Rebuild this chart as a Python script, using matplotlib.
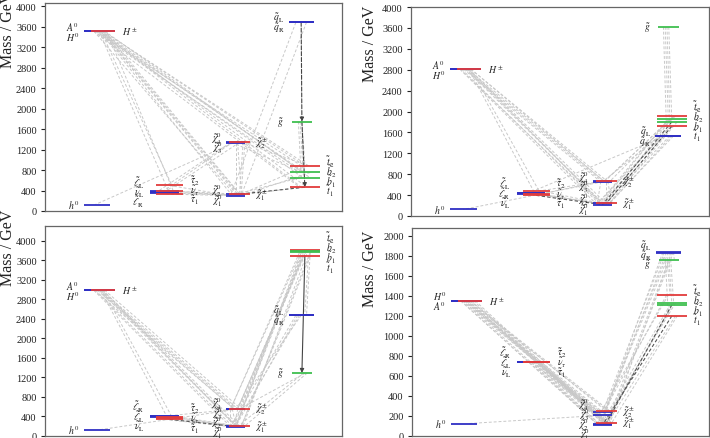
import matplotlib.pyplot as plt

plt.rcParams['font.family'] = ['Liberation Serif', 'DejaVu Serif']
plt.rcParams['mathtext.fontset'] = 'stix'

# particles shown in every panel
names = ['h0', 'H0', 'A0', 'Hpm',
         'lL', 'lR', 'nuL', 'tau1', 'tau2', 'nutau',
         'N1', 'N2', 'N3', 'N4', 'C1', 'C2',
         'qL', 'qR', 'gl', 't1', 't2', 'b1', 'b2']
labels = [r'$h^0$', r'$H^0$', r'$A^0$', r'$H^\pm$',
          r'$\tilde{\ell}_\mathrm{L}$', r'$\tilde{\ell}_\mathrm{R}$', r'$\tilde{\nu}_\mathrm{L}$',
          r'$\tilde{\tau}_1$', r'$\tilde{\tau}_2$', r'$\tilde{\nu}_\tau$',
          r'$\tilde{\chi}^0_1$', r'$\tilde{\chi}^0_2$', r'$\tilde{\chi}^0_3$', r'$\tilde{\chi}^0_4$',
          r'$\tilde{\chi}^\pm_1$', r'$\tilde{\chi}^\pm_2$',
          r'$\tilde{q}_\mathrm{L}$', r'$\tilde{q}_\mathrm{R}$', r'$\tilde{g}$',
          r'$\tilde{t}_1$', r'$\tilde{t}_2$', r'$\tilde{b}_1$', r'$\tilde{b}_2$']

# masses in GeV (same order as names)
mass_1 = [125, 3505, 3512, 3515, 400, 355, 370, 330, 515, 390,
          300, 330, 1335, 1340, 330, 1340, 3685, 3680, 1745, 464, 882, 647, 752]
mass_2 = [125, 2808, 2812, 2812, 445, 440, 430, 395, 478, 425,
          217, 240, 655, 662, 240, 662, 1535, 1530, 3620, 1716, 1913, 1800, 1850]
mass_3 = [125, 2983, 2987, 2987, 405, 418, 395, 340, 390, 365,
          192, 206, 552, 556, 206, 556, 2470, 2468, 1290, 3690, 3815, 3760, 3787]
mass_4 = [125, 1352, 1350, 1352, 740, 742, 738, 736, 740, 738,
          114, 121, 211, 238, 134, 248, 1838, 1835, 1765, 1201, 1409, 1312, 1329]

# decays (parent, daughter)
decays_1 = [('H0', 't1'), ('H0', 't2'), ('H0', 'b1'), ('H0', 'b2'),
            ('A0', 't1'), ('A0', 't2'), ('A0', 'b1'), ('A0', 'b2'),
            ('Hpm', 't1'), ('Hpm', 'b2'), ('Hpm', 't2'),
            ('H0', 'N1'), ('H0', 'N2'), ('A0', 'N1'), ('A0', 'C1'),
            ('Hpm', 'N1'), ('Hpm', 'C1'), ('H0', 'tau1'), ('A0', 'tau2'), ('Hpm', 'nutau'),
            ('qL', 'N1'), ('qR', 'N1'), ('gl', 'b1'), ('gl', 'b2'), ('gl', 't2'),
            ('t2', 'N1'), ('t2', 'C2'), ('b2', 'N1'), ('b1', 'N1'), ('b2', 'N3'), ('t1', 'N1'),
            ('N3', 'N1'), ('N4', 'C1'), ('C2', 'N1'), ('C2', 'N2'),
            ('N3', 'lL'), ('N4', 'lR'), ('N3', 'h0'), ('C2', 'nuL'),
            ('lL', 'N1'), ('lR', 'N1'), ('nuL', 'N1'), ('tau2', 'N1'), ('tau1', 'N1'), ('nutau', 'C1')]
dark_1 = [('t1', 'C1')]
arrows_1 = [('qL', 'gl'), ('gl', 't1')]

decays_2 = [('H0', 'N1'), ('H0', 'N2'), ('H0', 'N3'), ('H0', 'N4'),
            ('A0', 'N1'), ('A0', 'N2'), ('A0', 'N3'), ('A0', 'C1'),
            ('Hpm', 'C1'), ('Hpm', 'C2'), ('Hpm', 'N1'), ('Hpm', 'N4'),
            ('H0', 'lL'), ('A0', 'tau1'),
            ('gl', 't1'), ('gl', 't2'), ('gl', 'b1'), ('gl', 'b2'),
            ('qL', 'N1'), ('qL', 'C1'), ('qR', 'N1'), ('qL', 'N2'), ('qR', 'nuL'),
            ('t1', 'N1'), ('t1', 'C1'), ('t2', 'N3'), ('t2', 'C2'), ('b1', 'N1'),
            ('b1', 'C1'), ('b2', 'N2'), ('b2', 'C2'), ('t1', 'N3'), ('t2', 'N1'),
            ('N3', 'N1'), ('N4', 'C1'), ('C2', 'N1'), ('N3', 'lL'), ('N4', 'tau1'), ('N3', 'h0'),
            ('lL', 'N1'), ('lR', 'N1'), ('tau2', 'N1'), ('nutau', 'C1')]
dark_2 = [('tau1', 'N1'), ('b1', 'N1'), ('t1', 'C1')]
arrows_2 = []

decays_3 = [('H0', 'N1'), ('H0', 'N2'), ('H0', 'N3'), ('H0', 'N4'),
            ('A0', 'N1'), ('A0', 'N2'), ('A0', 'N3'), ('A0', 'C2'),
            ('Hpm', 'C1'), ('Hpm', 'C2'), ('Hpm', 'N1'), ('H0', 'lR'), ('A0', 'tau1'),
            ('t1', 'N1'), ('t1', 'N3'), ('t1', 'C1'), ('t1', 'C2'), ('t2', 'N1'), ('t2', 'N4'),
            ('t2', 'C1'), ('b1', 'N1'), ('b1', 'N3'), ('b1', 'C1'), ('b2', 'N2'), ('b2', 'C2'),
            ('b2', 'N4'), ('t1', 'qL'), ('b1', 'qR'),
            ('qL', 'N1'), ('qL', 'C1'), ('qR', 'N1'), ('qL', 'N3'),
            ('gl', 'N1'), ('gl', 'N3'), ('gl', 'C1'),
            ('N3', 'N1'), ('N4', 'C1'), ('C2', 'N1'), ('N3', 'lL'), ('N3', 'h0'),
            ('lL', 'N1'), ('lR', 'N1'), ('tau1', 'N1'), ('tau2', 'N1'), ('nutau', 'C1')]
dark_3 = [('tau1', 'N1')]
arrows_3 = [('t1', 'gl')]

decays_4 = [('H0', 'N1'), ('H0', 'N2'), ('H0', 'N3'), ('H0', 'N4'), ('H0', 'C1'), ('H0', 'C2'),
            ('A0', 'N1'), ('A0', 'N2'), ('A0', 'N3'), ('A0', 'N4'), ('A0', 'C1'), ('A0', 'C2'),
            ('Hpm', 'N1'), ('Hpm', 'N2'), ('Hpm', 'N3'), ('Hpm', 'N4'), ('Hpm', 'C1'), ('Hpm', 'C2'),
            ('lL', 'N1'), ('lR', 'N1'), ('nuL', 'C1'), ('tau1', 'N1'), ('tau2', 'N2'),
            ('nutau', 'C1'), ('lL', 'C1'), ('tau2', 'N1'),
            ('qL', 'N1'), ('qL', 'N2'), ('qL', 'C1'), ('qL', 'C2'), ('qR', 'N1'), ('qR', 'N3'),
            ('qR', 'N4'), ('qR', 'C1'), ('qL', 'gl'), ('qR', 'gl'),
            ('gl', 't1'), ('gl', 't2'), ('gl', 'b1'), ('gl', 'b2'),
            ('t1', 'N1'), ('t1', 'C1'), ('t2', 'N2'), ('t2', 'N3'), ('b1', 'N1'), ('b1', 'C1'),
            ('b2', 'N2'), ('b2', 'C2'), ('N3', 'h0')]
dark_4 = [('t1', 'N1'), ('b1', 'C1')]
arrows_4 = []

BLUE, RED, GREEN = '#2f2fc4', '#e23c3c', '#3fbf4f'
# x-extent of each level (axes fraction), colour and label group
layout = {
    'h0': (0.13, 0.22, BLUE, 'hL'), 'H0': (0.13, 0.235, BLUE, 'hL'),
    'A0': (0.13, 0.235, BLUE, 'hL'), 'Hpm': (0.155, 0.235, RED, 'hR'),
    'lL': (0.355, 0.45, BLUE, 'sL'), 'lR': (0.355, 0.45, BLUE, 'sL'),
    'nuL': (0.355, 0.45, BLUE, 'sL'), 'tau1': (0.375, 0.465, RED, 'sR'),
    'tau2': (0.375, 0.465, RED, 'sR'), 'nutau': (0.375, 0.465, RED, 'sR'),
    'N1': (0.61, 0.675, BLUE, 'nL'), 'N2': (0.61, 0.675, BLUE, 'nL'),
    'N3': (0.61, 0.675, BLUE, 'nL'), 'N4': (0.61, 0.675, BLUE, 'nL'),
    'C1': (0.62, 0.69, RED, 'cR'), 'C2': (0.62, 0.69, RED, 'cR'),
    'qL': (0.82, 0.905, BLUE, 'qL'), 'qR': (0.82, 0.905, BLUE, 'qL'),
    'gl': (0.83, 0.9, GREEN, 'qL'),
    't1': (0.825, 0.925, RED, 'tR'), 't2': (0.825, 0.925, RED, 'tR'),
    'b1': (0.825, 0.925, GREEN, 'tR'), 'b2': (0.825, 0.925, GREEN, 'tR'),
}
label_x = {'hL': (0.115, 'right'), 'hR': (0.26, 'left'), 'sL': (0.335, 'right'),
           'sR': (0.487, 'left'), 'nL': (0.597, 'right'), 'cR': (0.707, 'left'),
           'qL': (0.805, 'right'), 'tR': (0.945, 'left')}


def stack(ys, gap):
    # push labels apart so that they are at least gap apart
    clusters = [[y] for y in ys]
    while True:
        merged = False
        new = [clusters[0]]
        for c in clusters[1:]:
            prev = new[-1]
            cp = sum(prev) / len(prev)
            cc = sum(c) / len(c)
            if (cp - (len(prev) - 1) / 2 * gap) - (cc + (len(c) - 1) / 2 * gap) < gap:
                new[-1] = prev + c
                merged = True
            else:
                new.append(c)
        clusters = new
        if not merged:
            break
    out = []
    for c in clusters:
        cc = sum(c) / len(c)
        for i in range(len(c)):
            out.append(cc + ((len(c) - 1) / 2 - i) * gap)
    return out


def mid(n):
    return 0.5 * (layout[n][0] + layout[n][1])


def panel(ax, mass, decays, dark, arrows, arrow_ls, ymax, step, height_px):
    m = dict(zip(names, mass))
    for k, (a, b) in enumerate(decays):
        off = ((k % 7) - 3) * 0.006
        ax.plot([mid(a) + off, mid(b) + off], [m[a], m[b]], color='#c8c8c8',
                ls=(0, (3, 2)), lw=0.7, zorder=1)
    for a, b in dark:
        ax.plot([mid(a), mid(b)], [m[a], m[b]], color='#555555',
                ls=(0, (3, 2)), lw=0.8, zorder=2)
    for a, b in arrows:
        ax.annotate('', xy=(mid(b), m[b]), xytext=(mid(a), m[a]),
                    arrowprops=dict(arrowstyle='-|>', color='#444444', lw=0.8, ls=arrow_ls,
                                    mutation_scale=6, shrinkA=0, shrinkB=0), zorder=2)
    for n in names:
        x0, x1, c = layout[n][:3]
        ax.hlines(m[n], x0, x1, color=c, lw=1.3, zorder=3)

    gap = 9.8 * ymax / height_px
    groups = {}
    for n, lab in zip(names, labels):
        groups.setdefault(layout[n][3], []).append((n, lab))
    for g, members in groups.items():
        members.sort(key=lambda t: -m[t[0]])
        ys = stack([m[n] for n, _ in members], gap)
        lx, ha = label_x[g]
        for (n, lab), y in zip(members, ys):
            ax.text(lx, y, lab, ha=ha, va='center', fontsize=7, color='#222222')

    ax.set_xlim(0, 1)
    ax.set_ylim(0, ymax)
    ax.set_xticks([])
    ax.set_yticks(range(0, int(ymax) + 1, step))
    ax.tick_params(axis='y', direction='out', length=3, width=0.8, pad=3,
                   labelsize=7.5, colors='#222222')
    for s in ax.spines.values():
        s.set_color('#666666')
        s.set_linewidth(0.9)


W, H = 710, 439
fig = plt.figure(figsize=(W / 100, H / 100), dpi=100)

ax1 = fig.add_axes([45 / W, 1 - 212 / H, 297 / W, 208 / H])
ax2 = fig.add_axes([411 / W, 1 - 217 / H, 298 / W, 209 / H])
ax3 = fig.add_axes([45 / W, 1 - 437 / H, 297 / W, 210 / H])
ax4 = fig.add_axes([412 / W, 1 - 437 / H, 297 / W, 208 / H])

panel(ax1, mass_1, decays_1, dark_1, arrows_1, '--', 4060, 400, 208)
panel(ax2, mass_2, decays_2, dark_2, arrows_2, '--', 4000, 400, 209)
panel(ax3, mass_3, decays_3, dark_3, arrows_3, '-', 4300, 400, 210)
panel(ax4, mass_4, decays_4, dark_4, arrows_4, '--', 2080, 200, 208)

for x, y in [(8, 30), (370, 44), (8, 248), (370, 269)]:
    fig.text(x / W, 1 - y / H, 'Mass / GeV', rotation=90, ha='center', va='center',
             fontsize=11.5, color='#222222')

fig.savefig('out.png', dpi=100)
